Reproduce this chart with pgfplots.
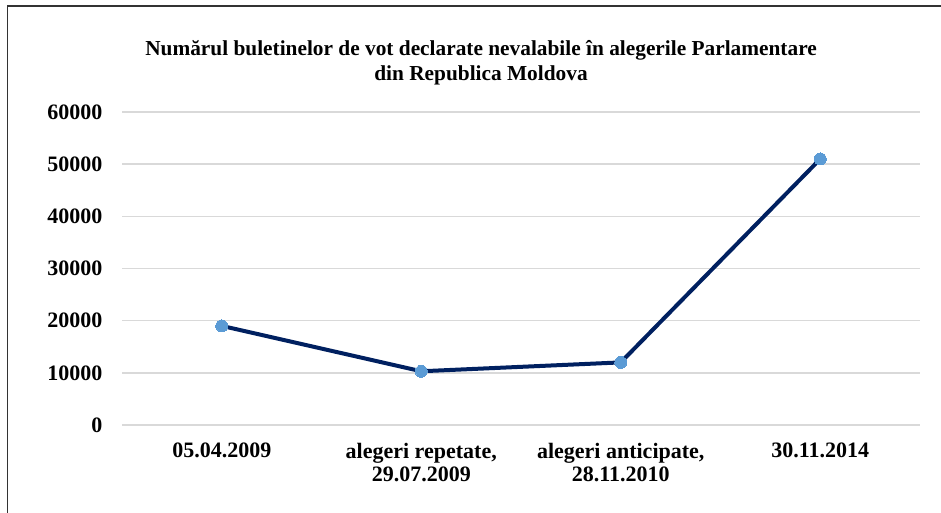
\documentclass[border=0pt]{standalone}
\usepackage{fontspec}
\setmainfont{Liberation Serif}
\usepackage{pgfplots}
\pgfplotsset{compat=1.18}
\definecolor{linec}{HTML}{002060}
\definecolor{markc}{HTML}{5B9BD5}
\definecolor{gridc}{HTML}{D9D9D9}
\begin{document}
\begin{tikzpicture}[x=0.75pt,y=0.75pt]
\useasboundingbox (0,0) rectangle (941,513);
\draw[line width=1.1pt, black!80] (7.5,0) -- (7.5,507) -- (941,507);
\node[font=\bfseries\fontsize{16}{19}\selectfont, align=center] at (481,450)
  {Numărul buletinelor de vot declarate nevalabile în alegerile Parlamentare\\din Republica Moldova};
\begin{axis}[
    at={(91.5pt,66pt)}, anchor=south west,
    scale only axis, width=598.5pt, height=234.75pt,
    xmin=-0.5, xmax=3.5, ymin=0, ymax=60000,
    ytick={0,10000,...,60000},
    xtick=data,
    xticklabels={05.04.2009, {alegeri repetate,\\29.07.2009}, {alegeri anticipate,\\28.11.2010}, 30.11.2014},
    axis x line=bottom, axis y line=left,
    x axis line style={gridc, line width=1.1pt, -},
    y axis line style={draw=none},
    tick style={draw=none},
    ymajorgrids, grid style={gridc, line width=1.1pt},
    /pgf/number format/assume math mode=true,
    scaled y ticks=false,
    yticklabel={\pgfmathprintnumber[fixed,int detect,1000 sep={}]{\tick}},
    ticklabel style={font=\bfseries\fontsize{16.5}{17.5}\selectfont},
    xticklabel style={align=center, yshift=-8pt},
    yticklabel style={xshift=-9pt},
]
\addplot[linec, line width=3pt, mark=*, mark size=4.5pt,
  mark options={draw=markc, fill=markc, line width=0pt}]
  coordinates {(0,19000) (1,10300) (2,12000) (3,51000)};
\end{axis}
\end{tikzpicture}
\end{document}
